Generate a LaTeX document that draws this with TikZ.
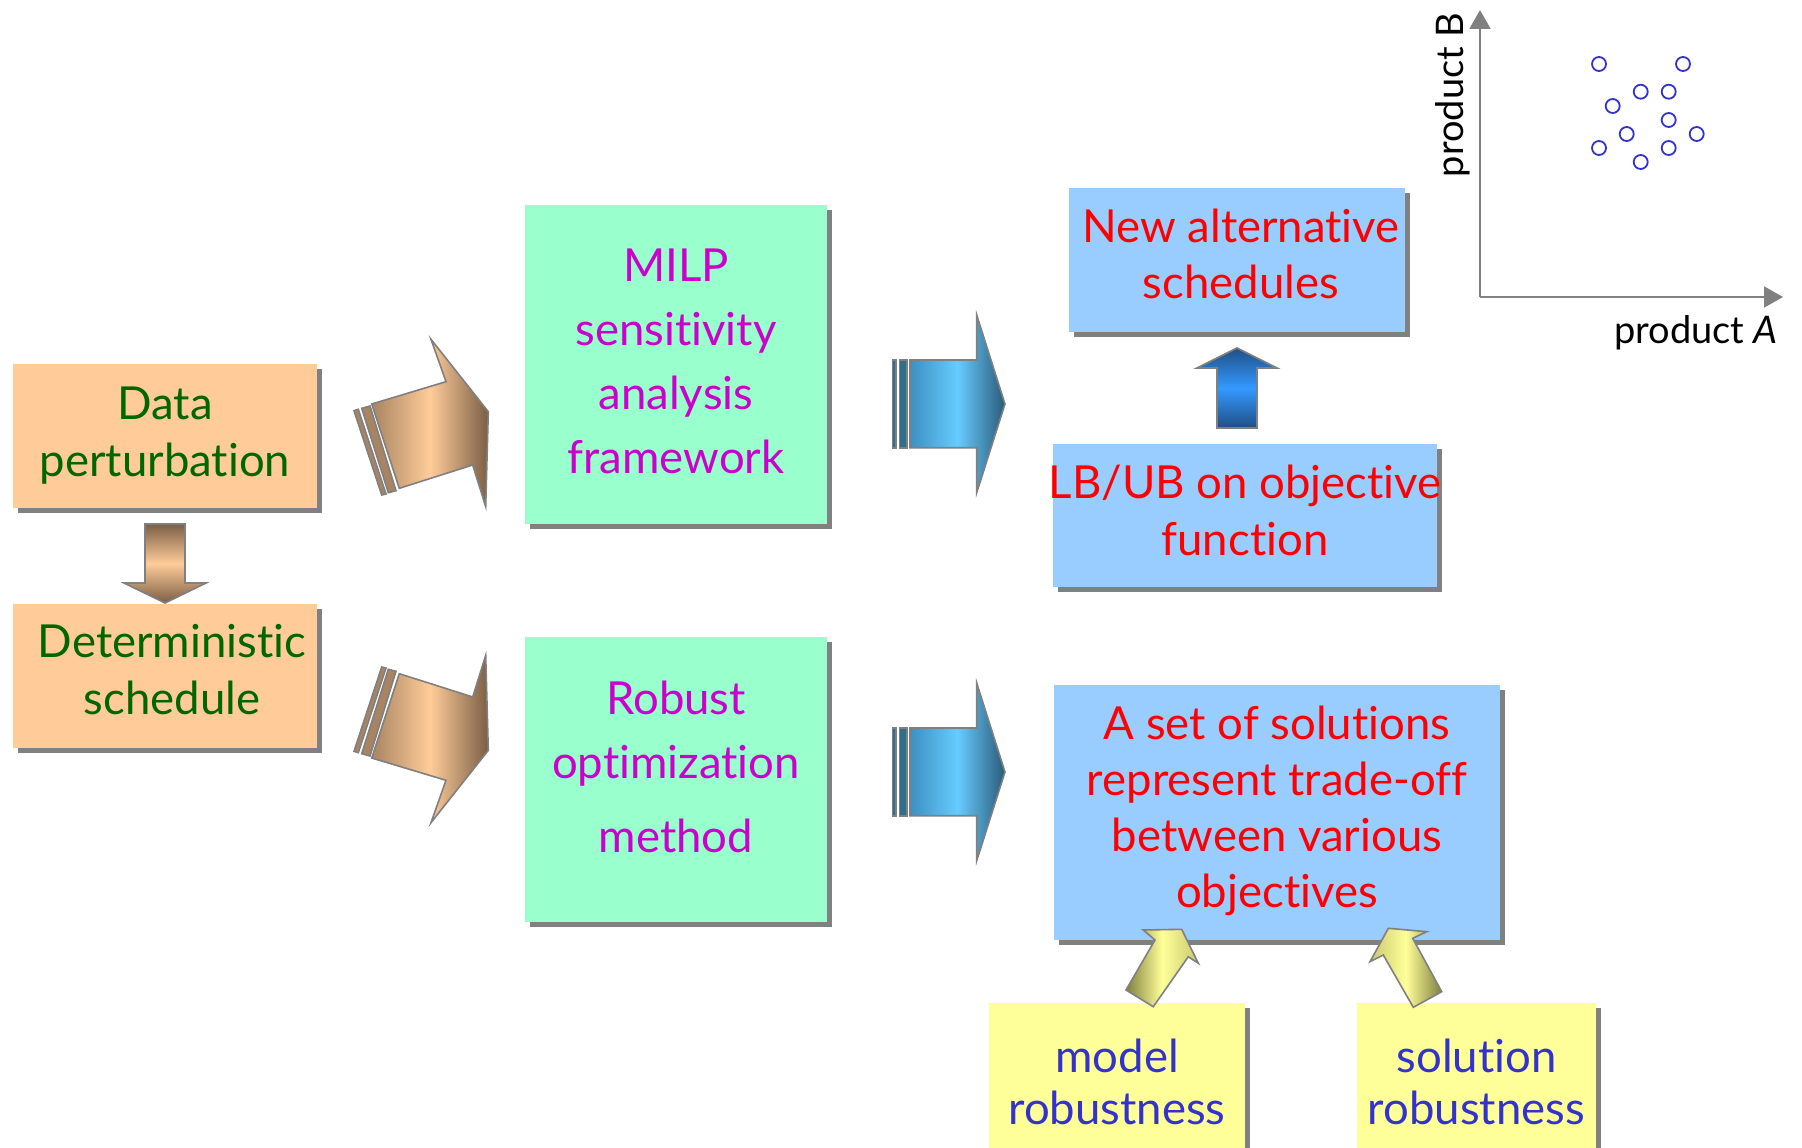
\documentclass[tikz,border=0pt]{standalone}
\usepackage{fontspec}
\setmainfont{Lato}[Ligatures={NoCommon}]
\usetikzlibrary{shadows,arrows.meta}

\definecolor{peach}{HTML}{FFCC99}
\definecolor{mint}{HTML}{99FFCC}
\definecolor{lblue}{HTML}{99CCFF}
\definecolor{lyellow}{HTML}{FFFF99}
\definecolor{shadowgray}{HTML}{808080}
\definecolor{edgegray}{HTML}{808080}
\definecolor{tgreen}{HTML}{006600}
\definecolor{tmag}{HTML}{CC00CC}
\definecolor{tred}{HTML}{FF0000}
\definecolor{tblue}{HTML}{3333CC}
\definecolor{pdark}{HTML}{7A5E45}
\definecolor{pmid}{HTML}{A88462}
\definecolor{bstripe}{HTML}{2F6E8C}
\definecolor{bmid}{HTML}{3D8FC0}
\definecolor{bright}{HTML}{66CCFF}
\definecolor{bdark}{HTML}{2A5A78}
\definecolor{unavy}{HTML}{1F4F85}
\definecolor{ubright}{HTML}{3399FF}
\definecolor{ydark}{HTML}{7F7F40}
\definecolor{ymid}{HTML}{C8C870}
\definecolor{dotblue}{HTML}{3333CC}

% slanted peach arrow with two stripes at its tail
\newcommand\slantarrowshape{%
  \path[blockarrow, fill=pmid] (354,410.7) -- (358.3,409.3) -- (386,494) -- (381.7,495) -- cycle;
  \path[blockarrow, fill=pmid] (361.7,408.3) -- (370,406) -- (396,490.7) -- (388.3,492.7) -- cycle;
  \path[blockarrow, left color=pmid, right color=pdark, middle color=peach]
    (371.7,404) -- (446,381.7) -- (431,339.3) -- (488.3,411.7) -- (485.7,506.7)
    -- (472.7,465) -- (399.3,488.3) -- cycle;
}

\begin{document}
\begin{tikzpicture}[x=1pt,y=-1pt,
  box/.style={inner sep=0pt, outer sep=0pt, draw=none,
    drop shadow={shadow xshift=5pt, shadow yshift=-5pt, fill=shadowgray, opacity=1}},
  lbl/.style={align=center, inner sep=0pt, font=\fontsize{45.5}{57}\selectfont},
  blockarrow/.style={draw=edgegray, line width=1.6pt, line join=miter},
  axis/.style={draw=edgegray, line width=2pt, -{Triangle[length=19pt,width=21pt]}},
  dot/.style={draw=dotblue, line width=1.8pt},
  axlbl/.style={inner sep=0pt, font=\fontsize{38}{44}\selectfont},
]
\useasboundingbox (0,0) rectangle (1802,1148);
\clip (0,0) rectangle (1802,1148);

% boxes
\node[box, fill=peach, minimum width=304pt, minimum height=144pt] (data) at (165,436) {};
\node[box, fill=peach, minimum width=304pt, minimum height=144pt] (det) at (165,676) {};
\node[box, fill=mint, minimum width=302pt, minimum height=319pt] (milp) at (676,364.5) {};
\node[box, fill=mint, minimum width=302pt, minimum height=285pt] (robust) at (676,779.5) {};
\node[box, fill=lblue, minimum width=336pt, minimum height=144pt] (newalt) at (1237,260) {};
\node[box, fill=lblue, minimum width=384pt, minimum height=143pt] (bounds) at (1245,515.5) {};
\node[box, fill=lblue, minimum width=446pt, minimum height=255pt] (tradeoff) at (1277,812.5) {};
\node[box, fill=lyellow, minimum width=256pt, minimum height=170pt] (modelrb) at (1117,1088) {};
\node[box, fill=lyellow, minimum width=239pt, minimum height=170pt] (solrb) at (1476.5,1088) {};

% box texts
\node[lbl, text=tgreen] (dataT) at (data.center) {Data\\perturbation};
\node[lbl, text=tgreen] (detT) at ([xshift=7pt,yshift=6pt]det.center) {Deterministic\\schedule};
\node[lbl, text=tmag, font=\fontsize{45.5}{64}\selectfont] (milpT) at ([yshift=3pt]milp.center)
  {MILP\\sensitivity\\analysis\\framework};
\node[lbl, text=tmag, font=\fontsize{45.5}{64}\selectfont] (robustT) at ([yshift=13pt]robust.center)
  {Robust\\optimization\\[10pt]method};
\node[lbl, text=tred, font=\fontsize{45.5}{56}\selectfont] (newaltT) at ([xshift=4pt,yshift=6pt]newalt.center)
  {New alternative\\schedules};
\node[lbl, text=tred] (boundsT) at ([yshift=5pt]bounds.center) {LB/UB on objective\\function};
\node[lbl, text=tred, font=\fontsize{45.5}{56}\selectfont] (tradeoffT) at ([yshift=2pt]tradeoff.center)
  {A set of solutions\\represent trade-off\\between various\\objectives};
\node[lbl, text=tblue, font=\fontsize{45.5}{52}\selectfont] (modelT) at ([yshift=6.5pt]modelrb.center)
  {model\\robustness};
\node[lbl, text=tblue, font=\fontsize{45.5}{52}\selectfont] (solT) at ([yshift=6.5pt]solrb.center)
  {solution\\robustness};

% down arrow between the two peach boxes
\path[blockarrow, top color=pdark, bottom color=pdark, middle color=peach]
  (145,524) -- (185,524) -- (185,583) -- (206,583) -- (165,603) -- (124,583) -- (145,583) -- cycle;

% slanted peach arrows
\begin{scope}
  \slantarrowshape
\end{scope}
\begin{scope}[shift={(0,1162)}, yscale=-1]
  \slantarrowshape
\end{scope}

% blue arrows to the right
\foreach \dy in {0,368}{
  \begin{scope}[shift={(0,\dy)}]
    \path[blockarrow, fill=bstripe] (892.3,360) rectangle (896,447.7);
    \path[blockarrow, fill=bstripe] (899.3,360) rectangle (906.7,447.7);
    \path[blockarrow, left color=bmid, right color=bdark, middle color=bright]
      (910,360) -- (976.7,360) -- (976.7,315) -- (1005,404) -- (976.7,492.7)
      -- (976.7,447.7) -- (910,447.7) -- cycle;
  \end{scope}
}

% up arrow between the blue boxes
\path[blockarrow, top color=unavy, bottom color=unavy, middle color=ubright]
  (1217,428) -- (1257,428) -- (1257,368) -- (1277,368) -- (1237,348) -- (1197,368) -- (1217,368) -- cycle;

% yellow arrows
\path[blockarrow, left color=ydark, right color=ymid, middle color=lyellow]
  (1126,990) -- (1155,940) -- (1143.3,930) -- (1181.7,929.3) -- (1198.3,963.3)
  -- (1188.3,956.7) -- (1153.3,1006.7) -- cycle;
\path[blockarrow, left color=ymid, right color=ydark, middle color=lyellow]
  (1370,961.7) -- (1388.3,928.3) -- (1426.7,931.7) -- (1412.7,938.3) -- (1441.7,991.7)
  -- (1413.3,1007.3) -- (1383.3,955) -- cycle;

% small scatter plot
\coordinate (origin) at (1480,297);
\coordinate (ytip) at (1480,10);
\coordinate (xtip) at (1783,297);
\draw[axis] (origin) -- (ytip);
\draw[axis] (origin) -- (xtip);
\node[axlbl, anchor=base] (xlabel) at (1696,343) {product \textit{A}};
\node[axlbl, anchor=base, rotate=90] (ylabel) at (1463,95) {product B};
\foreach \px/\py in {1599/64, 1683/64, 1640.7/91.7, 1668.7/91.7, 1612.7/106, 1668.7/120,
                     1626.7/134, 1696.7/134, 1599/148, 1668.7/148, 1640.7/162}
  \draw[dot] (\px,\py) circle (7pt);
\end{tikzpicture}
\end{document}
